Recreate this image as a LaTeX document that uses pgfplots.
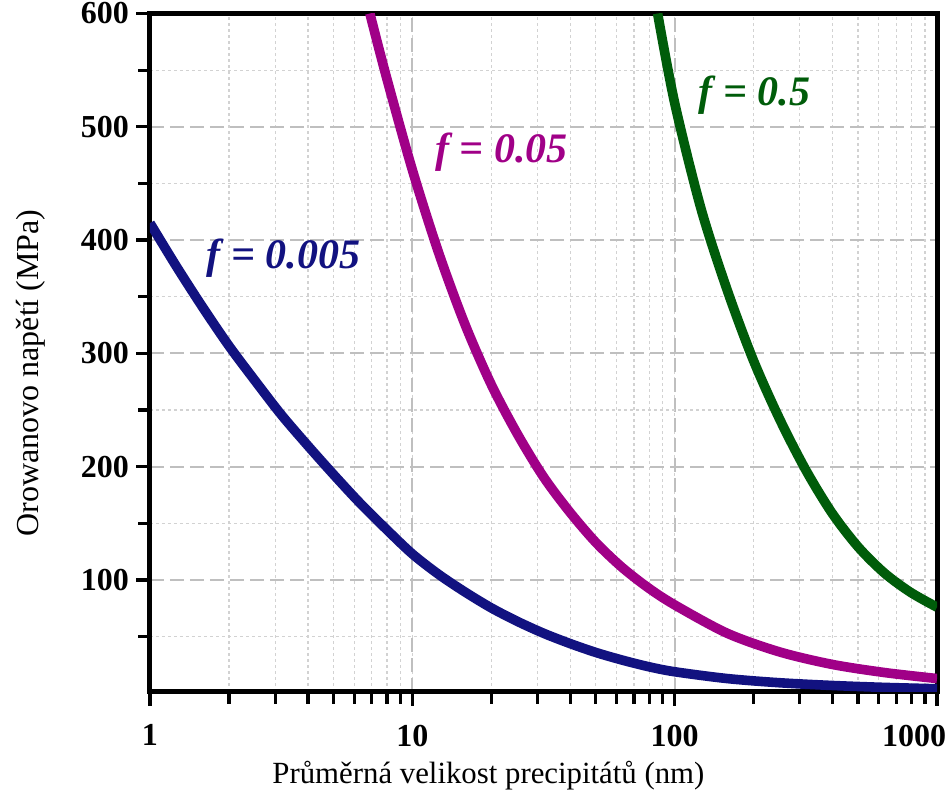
\documentclass[border=0pt]{standalone}
\usepackage{fontspec}
\setmainfont{Liberation Serif}
\usepackage{pgfplots}
\pgfplotsset{compat=1.18}
\definecolor{cblue}{RGB}{18,18,128}
\definecolor{cmag}{RGB}{160,0,135}
\definecolor{cgreen}{RGB}{0,92,10}
\begin{document}
\begin{tikzpicture}
\path[use as bounding box] (-75pt,-52.15pt) rectangle (401pt,345.85pt);
\begin{axis}[
  xmode=log, scale only axis, width=393.5pt, height=339.1pt,
  xmin=1, xmax=1000, ymin=1.4, ymax=600,
  xtick={1,10,100,1000}, xticklabels={1,10,100,1000\hspace*{23pt}},
  ytick={100,200,...,600}, minor ytick={50,150,...,550},
  grid=both,
  major grid style={gray!50, line width=1pt, dash pattern=on 7pt off 3pt},
  minor grid style={gray!35, line width=0.6pt, dash pattern=on 1.5pt off 1.5pt},
  axis line style={line width=2.5pt},
  tick style={black, line width=1.6pt},
  major tick length=7pt, minor tick length=6pt,
  tick align=outside, tick pos=left,
  /pgf/number format/assume math mode=true,
  ticklabel style={font=\fontsize{16}{18}\selectfont\bfseries},
  xticklabel style={yshift=-6pt},
  xlabel={Průměrná velikost precipitátů (nm)},
  ylabel={Orowanovo napětí (MPa)},
  xlabel style={font=\fontsize{15.4}{18}\selectfont, at={(axis description cs:0.43,-0.124)}, anchor=center},
  ylabel style={font=\fontsize{16}{18}\selectfont, at={(axis description cs:-0.152,0.47)}, anchor=center},
]
\addplot[cblue, line width=4.8pt, smooth] coordinates {
(1,415) (1.259,377) (1.585,341) (1.995,307) (2.512,276) (3.162,246) (3.981,219) (5.012,193) (6.31,168) (7.943,145) (10,123) (12.59,105) (15.85,89.5) (19.95,75.5) (25.12,63.5) (31.62,53) (39.81,44) (50.12,36) (63.1,29.3) (79.43,23.5) (100,19) (158.5,13) (251.2,9.3) (398.1,6.9) (631,5.2) (1000,4)};
\addplot[cmag, line width=4.8pt, smooth] coordinates {
(6.89,600) (7.943,545) (10,462) (12.59,389) (15.85,326) (19.95,273) (25.12,229) (31.62,191) (39.81,160) (50.12,133) (63.1,111) (79.43,93) (100,78) (158.5,53) (251.2,36.5) (398.1,25.5) (631,18.3) (1000,13)};
\addplot[cgreen, line width=4.8pt, smooth] coordinates {
(86.1,600) (100,521) (125.9,428) (158.5,356) (199.5,294) (251.2,242) (316.2,197) (398.1,159) (501.2,129) (631,106) (794.3,89) (1000,76)};
\node[cblue, anchor=west, font=\fontsize{21}{24}\selectfont\bfseries\itshape] at (axis cs:1.55,384) {f = 0.005};
\node[cmag, anchor=west, font=\fontsize{21}{24}\selectfont\bfseries\itshape] at (axis cs:11.5,478) {f = 0.05};
\node[cgreen, anchor=west, font=\fontsize{21}{24}\selectfont\bfseries\itshape] at (axis cs:116,528) {f = 0.5};
\end{axis}
\end{tikzpicture}
\end{document}
